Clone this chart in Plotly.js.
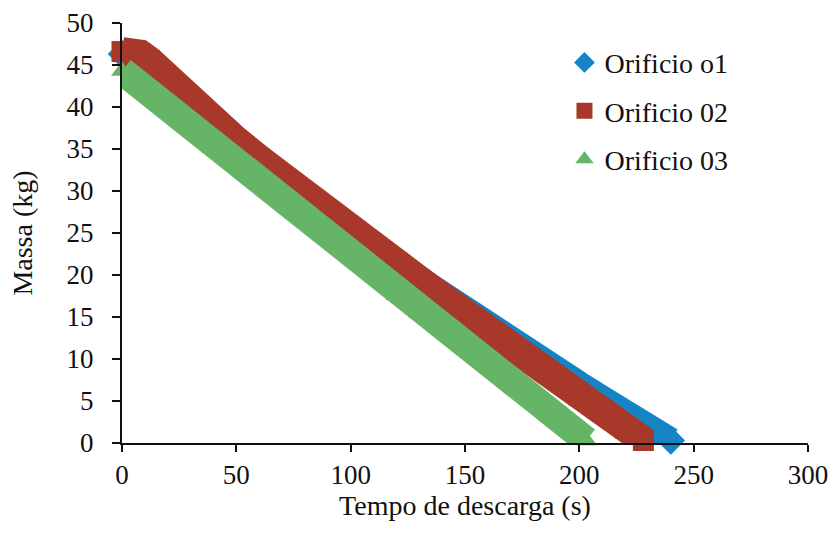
<!DOCTYPE html>
<html>
<head>
<meta charset="utf-8">
<script src="https://cdn.plot.ly/plotly-3.0.1.min.js"></script>
<style>html,body{margin:0;padding:0;background:#fff;}#chart{width:833px;height:537px;}</style>
</head>
<body>
<div id="chart"></div>
<script>
// Series names
const seriesNames = ["Orificio o1", "Orificio 02", "Orificio 03"];

// Orificio o1 (blue diamonds)
const t1 = [0, 5, 10, 20, 30, 40, 50, 60, 70, 80, 90, 100, 110, 120, 130, 140, 150, 160, 170, 180, 190, 200, 210, 220, 230, 240];
const m1 = [46.3, 46.2, 45.6, 43.0, 40.3, 37.9, 35.7, 33.5, 31.3, 29.2, 27.2, 25.2, 23.2, 21.3, 19.4, 17.6, 15.9, 14.1, 12.3, 10.6, 8.8, 7.0, 5.3, 3.5, 1.8, 0.3];

// Orificio 02 (red squares)
const t2 = [0, 4, 8, 12, 20, 30, 40, 50, 60, 70, 80, 90, 100, 110, 120, 130, 140, 150, 160, 170, 180, 190, 200, 210, 220, 228];
const m2 = [46.6, 46.6, 46.3, 45.5, 43.3, 40.6, 38.2, 36.0, 33.8, 31.6, 29.5, 27.5, 25.5, 23.5, 21.5, 19.4, 17.4, 15.5, 13.5, 11.6, 9.6, 7.7, 5.7, 3.8, 1.8, 0.3];

// Orificio 03 (green triangles)
const t3 = [0, 10, 20, 30, 40, 50, 60, 70, 80, 90, 100, 110, 120, 130, 140, 150, 160, 170, 180, 190, 200, 203];
const m3 = [44.3, 42.1, 39.9, 37.6, 35.4, 33.2, 31.0, 28.8, 26.5, 24.3, 22.1, 19.9, 17.6, 15.5, 13.4, 11.3, 9.2, 7.2, 5.1, 3.0, 1.0, 0.3];

// Axis ticks
const xTicks = [0, 50, 100, 150, 200, 250, 300];
const yTicks = [0, 5, 10, 15, 20, 25, 30, 35, 40, 45, 50];

const colors = ["#1584c5", "#a8382a", "#66b465"];
const symbols = ["diamond", "square", "triangle-up"];
const bandWidths = [26, 29, 28];
const markerSizes = [22, 21, 19];

const xs = [t1, t2, t3];
const ys = [m1, m2, m3];
const traces = [];
for (let i = 0; i < 3; i++) {
  traces.push({
    x: xs[i], y: ys[i], type: "scatter", mode: "lines",
    line: {color: colors[i], width: bandWidths[i], shape: "linear"},
    showlegend: false, legendgroup: "g" + i, hoverinfo: "skip"
  });
  traces.push({
    x: xs[i], y: ys[i], type: "scatter", mode: "markers",
    name: seriesNames[i], legendgroup: "g" + i, cliponaxis: false,
    marker: {color: colors[i], symbol: symbols[i], size: markerSizes[i], line: {width: 0}}
  });
}

const FAM = "Liberation Serif";
const layout = {
  width: 833, height: 537,
  margin: {l: 122, r: 25, t: 23, b: 94},
  paper_bgcolor: "#fff", plot_bgcolor: "#fff",
  font: {family: FAM, size: 27, color: "#111"},
  showlegend: true,
  legend: {
    x: 0.645, y: 0.965, xanchor: "left", yanchor: "top",
    font: {family: FAM, size: 28, color: "#111"},
    bgcolor: "rgba(0,0,0,0)", tracegroupgap: 9, itemwidth: 30,
    traceorder: "grouped"
  },
  xaxis: {
    range: [0, 300], tickvals: xTicks, ticktext: xTicks.map(String),
    showline: true, linecolor: "#111", linewidth: 2,
    ticks: "outside", ticklen: 7, tickwidth: 2, tickcolor: "#111",
    showgrid: false, zeroline: false,
    tickfont: {family: FAM, size: 27, color: "#111"},
    title: {text: "Tempo de descarga (s)", font: {family: FAM, size: 28, color: "#111"}, standoff: 6}
  },
  yaxis: {
    range: [0, 50], tickvals: yTicks, ticktext: yTicks.map(String),
    showline: true, linecolor: "#111", linewidth: 2,
    ticks: "outside", ticklen: 8, tickwidth: 2, tickcolor: "#111",
    ticklabelstandoff: 13,
    showgrid: false, zeroline: false,
    tickfont: {family: FAM, size: 27, color: "#111"},
    title: {text: "Massa (kg)", font: {family: FAM, size: 28, color: "#111"}, standoff: 26}
  }
};

Plotly.newPlot("chart", traces, layout, {displayModeBar: false, staticPlot: true});
</script>
</body>
</html>
